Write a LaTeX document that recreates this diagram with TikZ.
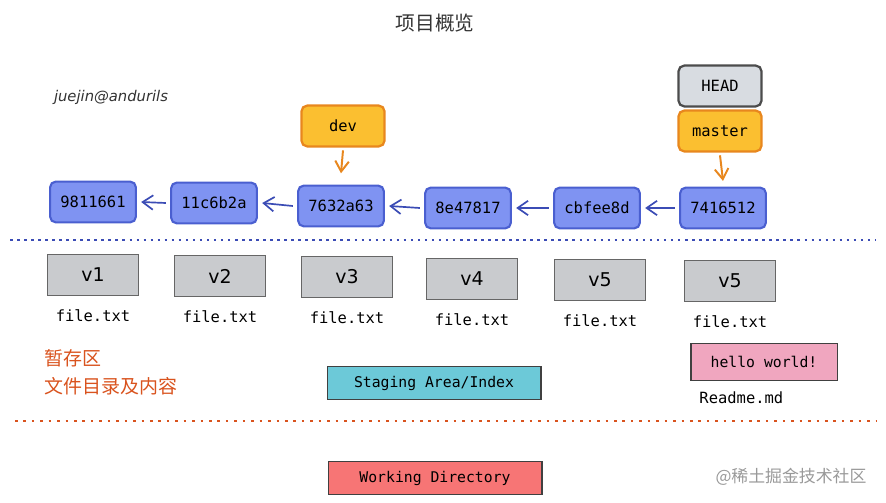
\documentclass[tikz,border=0pt]{standalone}
\usepackage{fontspec}
\setmainfont{DejaVu Sans}
\setmonofont{DejaVu Sans Mono}
\newfontfamily\cjk{Noto Sans CJK SC}
\usepackage{tikz}
\usetikzlibrary{arrows.meta,positioning}
\definecolor{commitblue}{HTML}{7F93F2}
\definecolor{commitedge}{HTML}{4A5FD0}
\definecolor{linkblue}{HTML}{3B4CB5}
\definecolor{refyellow}{HTML}{FBBF30}
\definecolor{reforange}{HTML}{E8871E}
\definecolor{headgray}{HTML}{D8DCE1}
\definecolor{blobgray}{HTML}{C9CBCE}
\definecolor{stagecyan}{HTML}{6CC9D8}
\definecolor{workred}{HTML}{F77575}
\definecolor{hellopink}{HTML}{F0A6BF}
\definecolor{areaorange}{HTML}{D9531E}
\tikzset{
  commit/.style={draw=commitedge,fill=commitblue,line width=1.5pt,rounded corners=4pt,
    minimum width=61pt,minimum height=29pt,inner sep=0pt,font=\ttfamily\fontsize{11}{12}\selectfont},
  refbox/.style={draw=reforange,fill=refyellow,line width=1.6pt,rounded corners=4pt,
    minimum width=59pt,minimum height=29pt,inner sep=0pt,font=\ttfamily\fontsize{11}{12}\selectfont},
  headbox/.style={refbox,draw=black!70,fill=headgray},
  blob/.style={draw=black!60,fill=blobgray,line width=1pt,
    minimum width=65pt,minimum height=29pt,inner sep=0pt,font=\fontsize{13.5}{15}\selectfont},
  fname/.style={font=\ttfamily\fontsize{11}{12}\selectfont},
  areabox/.style={draw=black!75,line width=0.9pt,minimum width=152pt,minimum height=23pt,
    inner sep=0pt,font=\ttfamily\fontsize{10.5}{12}\selectfont},
  parent/.style={draw=linkblue,line width=1.2pt,-{Straight Barb[length=2.6mm,width=3.6mm]}},
  points/.style={draw=reforange,line width=1.4pt,-{Straight Barb[length=2.6mm,width=3.4mm]}}
}
\begin{document}
\begin{tikzpicture}[x=0.025cm,y=-0.025cm]
\useasboundingbox (0,0) rectangle (886,503);
\node[font=\cjk\fontsize{14}{16}\selectfont,text=black!80] (title) at (435,23) {项目概览};
\node[font=\itshape\fontsize{10.5}{12}\selectfont,text=black!80] (sign) at (111,97) {juejin@andurils};
% commits
\node[commit] (c1) at (93,202) {9811661};
\node[commit] (c2) at (214,203) {11c6b2a};
\node[commit] (c3) at (341,206) {7632a63};
\node[commit] (c4) at (468,208) {8e47817};
\node[commit] (c5) at (597,208) {cbfee8d};
\node[commit] (c6) at (723,208) {7416512};
\draw[parent] (c2.west) ++(-3pt,0) -- ([xshift=3pt]c1.east);
\draw[parent] (c3.west) ++(-3pt,0) -- ([xshift=3pt]c2.east);
\draw[parent] (c4.west) ++(-3pt,0) -- ([xshift=3pt]c3.east);
\draw[parent] (c5.west) ++(-3pt,0) -- ([xshift=3pt]c4.east);
\draw[parent] (c6.west) ++(-3pt,0) -- ([xshift=3pt]c5.east);
% refs
\node[refbox] (dev) at (343,126) {dev};
\node[headbox] (head) at (720,86) {HEAD};
\node[refbox] (master) at (720,131) {master};
\draw[points] ([yshift=-2pt]dev.south) -- ([yshift=8pt]c3.north);
\draw[points] ([yshift=-2pt]master.south) -- ([yshift=4pt]c6.north);
% repo / index divider
\draw[linkblue,line width=1.6pt,dash pattern=on 1.8pt off 3.2pt] (10,240) -- (876,240);
% blobs in the index
\foreach \n/\x/\y/\t in {1/93/275/v1,2/220/276/v2,3/347/277/v3,4/472/279/v4,5/600/280/v5,6/730/281/v5}{
  \node[blob] (b\n) at (\x,\y) {\t};
  \node[fname,below=6pt of b\n] (fn\n) {file.txt};
}
\node[font=\cjk\fontsize{13.5}{19.5}\selectfont,text=areaorange,align=left,anchor=north west] (idxnote) at (40,345)
  {暂存区\\文件目录及内容};
\node[areabox,fill=stagecyan] (stage) at (434,383) {Staging Area/Index};
\node[areabox,fill=hellopink,minimum width=104pt,minimum height=26pt] (hello) at (764,362) {hello world!};
\node[fname,below=4pt of hello.south west,anchor=north west,xshift=3pt] (readme) {Readme.md};
% index / working dir divider
\draw[areaorange,line width=1.5pt,dash pattern=on 1.8pt off 4.2pt] (15,421) -- (876,421);
\node[areabox,fill=workred] (work) at (435,478) {Working Directory};
\node[font=\cjk\fontsize{12}{14}\selectfont,text=black!40] (mark) at (791,477) {@稀土掘金技术社区};
\end{tikzpicture}
\end{document}
